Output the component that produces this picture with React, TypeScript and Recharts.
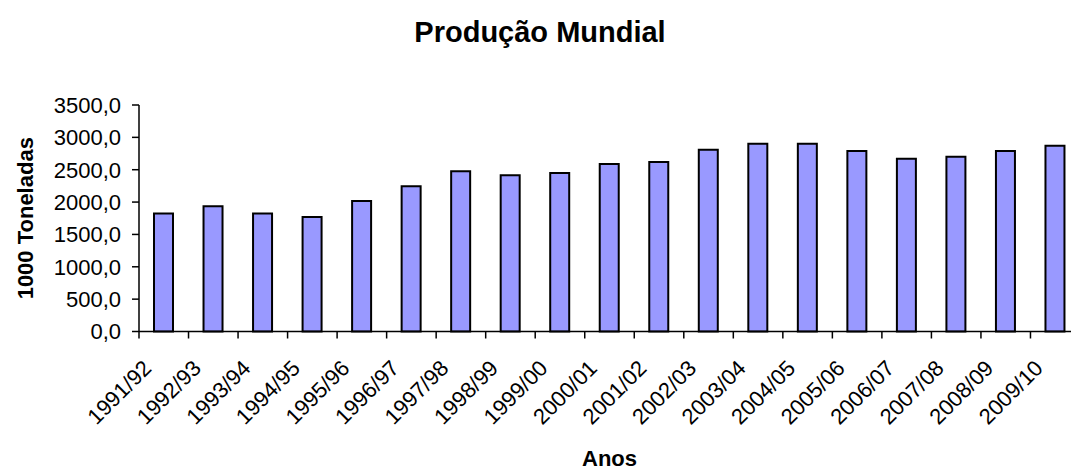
import { BarChart, Bar, XAxis, YAxis } from "recharts";

const seasons = [
  "1991/92", "1992/93", "1993/94", "1994/95", "1995/96", "1996/97", "1997/98",
  "1998/99", "1999/00", "2000/01", "2001/02", "2002/03", "2003/04", "2004/05",
  "2005/06", "2006/07", "2007/08", "2008/09", "2009/10",
];

// 1000 toneladas
const production = [
  1822, 1936, 1822, 1771, 2018, 2246, 2478, 2416, 2450, 2590, 2620, 2810,
  2900, 2900, 2790, 2670, 2700, 2790, 2870,
];

const yTicks = [0, 500, 1000, 1500, 2000, 2500, 3000, 3500];

const data = seasons.map((season, i) => ({ season, value: production[i] }));

const FONT = '"Liberation Sans", Arial, sans-serif';

const fmt = (v: number) => v.toFixed(1).replace(".", ",");

// label rotated -45deg, plus the Excel style tick mark on the left edge of the band
function SeasonTick({ x, y, payload }: any) {
  const half = payload.offset ?? 0;
  return (
    <g>
      <line x1={x - half} x2={x - half} y1={y} y2={y + 7} stroke="#000" strokeWidth={1.5} />
      <g transform={`translate(${x - 11},${y + 38})`}>
        <text
          textAnchor="end"
          transform="rotate(-45)"
          fontSize={22}
          fontFamily={FONT}
          fill="#000"
        >
          {payload.value}
        </text>
      </g>
    </g>
  );
}

export default function App() {
  return (
    <div
      style={{
        position: "absolute",
        left: 0,
        top: 0,
        width: 1071,
        height: 470,
        overflow: "hidden",
        background: "#fff",
        fontFamily: FONT,
      }}
    >
      <div
        style={{
          position: "absolute",
          left: 0,
          top: 18,
          width: 1080,
          textAlign: "center",
          fontSize: 29,
          lineHeight: "29px",
          fontWeight: "bold",
          color: "#000",
        }}
      >
        Produção Mundial
      </div>
      <BarChart
        width={1080}
        height={470}
        data={data}
        margin={{ top: 105, right: 0, bottom: 0, left: 0 }}
      >
        <XAxis
          dataKey="season"
          height={138.5}
          interval={0}
          tickSize={0}
          tickMargin={0}
          tickLine={false}
          axisLine={{ stroke: "#000", strokeWidth: 1.5 }}
          tick={<SeasonTick />}
          label={{
            value: "Anos",
            position: "insideBottom",
            offset: 4,
            style: { fontSize: 22, fontWeight: "bold", fill: "#000", fontFamily: FONT },
          }}
        />
        <YAxis
          width={139}
          domain={[0, 3500]}
          ticks={yTicks}
          interval={0}
          tickFormatter={fmt}
          tickSize={7}
          tickMargin={11}
          axisLine={{ stroke: "#000", strokeWidth: 1.5 }}
          tickLine={{ stroke: "#000", strokeWidth: 1.5 }}
          tick={{ fontSize: 22, fill: "#000", fontFamily: FONT }}
          label={{
            value: "1000 Toneladas",
            angle: -90,
            position: "insideLeft",
            offset: 25,
            style: {
              textAnchor: "middle",
              fontSize: 22,
              fontWeight: "bold",
              fill: "#000",
              fontFamily: FONT,
            },
          }}
        />
        <Bar
          dataKey="value"
          barSize={19}
          fill="#9999FF"
          stroke="#000"
          strokeWidth={2}
          isAnimationActive={false}
        />
      </BarChart>
    </div>
  );
}
